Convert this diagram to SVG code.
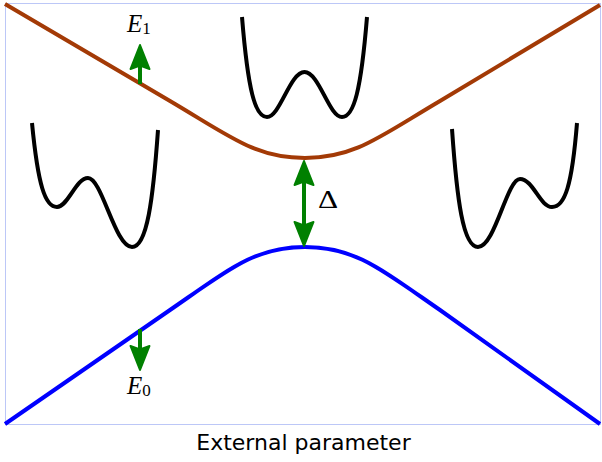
<svg xmlns="http://www.w3.org/2000/svg" width="602" height="462" viewBox="0 0 602 462">
<style>
.frame{fill:none;stroke:#bcc7f7;stroke-width:1}
.lvl{fill:none;stroke-width:4;stroke-linejoin:round;stroke-linecap:butt}
.pot{fill:none;stroke:#000;stroke-width:4;stroke-linecap:butt;stroke-linejoin:round}
.shaft{stroke:#008000;stroke-width:4;fill:none}
.head{fill:#008000;stroke:#008000;stroke-width:2;stroke-linejoin:round}
.math{font-family:"Liberation Serif","DejaVu Serif",serif;font-size:25px;fill:#000}
.axis{font-family:"DejaVu Sans","Liberation Sans",sans-serif;font-size:22px;fill:#000}
</style>
<defs>
<path id="ah" d="M0,0 L9.5,24 L0,20.5 L-9.5,24 Z"/>
</defs>
<rect class="frame" x="5.5" y="3.5" width="595" height="421"/>
<g id="levels">
<path id="E1-curve" class="lvl" stroke="#a33a06" d="M5,4 L170,101 C230,136.3 255,158 305,158 C355,158 380,136.3 440,101 L600,5"/>
<path id="E0-curve" class="lvl" stroke="#0000ff" d="M5,424 L170,310 C230,268.6 255,247 305,247 C355,247 380,268.6 440,310 L600,424"/>
</g>
<g id="potential-left">
<path class="pot" d="M32,123 C38,185 45,207 57,207 C68,207 76,178 88,178 C102,178 115,247 132,247 C147,247 153,200 158,130"/>
</g>
<g id="potential-middle">
<path class="pot" d="M242,17 C248,90 255,117 267,117 C280,117 290,72 304.5,72 C319,72 329,117 342,117 C354,117 361,90 367,17"/>
</g>
<g id="potential-right">
<path class="pot" d="M452,129 C457,200 463,247 478,247 C495,247 507,179 520,179 C533,179 540,207 552,207 C565,207 572,185 577,123"/>
</g>
<g id="connectors">
<g id="arrow-E1">
<line class="shaft" x1="140" y1="84" x2="140" y2="62"/>
<use href="#ah" class="head" transform="translate(140,45)"/>
</g>
<g id="arrow-E0">
<line class="shaft" x1="140" y1="329" x2="140" y2="352"/>
<use href="#ah" class="head" transform="translate(140,370) rotate(180)"/>
</g>
<g id="arrow-gap">
<line class="shaft" x1="304" y1="176" x2="304" y2="231"/>
<use href="#ah" class="head" transform="translate(304,161)"/>
<use href="#ah" class="head" transform="translate(304,246) rotate(180)"/>
</g>
</g>
<g id="label-E1">
<text class="math" x="127" y="32"><tspan font-style="italic">E</tspan><tspan font-size="17" dy="1.5">1</tspan></text>
</g>
<g id="label-E0">
<text class="math" x="127" y="394"><tspan font-style="italic">E</tspan><tspan font-size="17" dy="2">0</tspan></text>
</g>
<g id="label-gap">
<text class="math" transform="translate(318,208) scale(1.25,1)" font-size="23">Δ</text>
</g>
<g id="label-axis">
<text class="axis" x="303.5" y="450" text-anchor="middle">External parameter</text>
</g>
</svg>
